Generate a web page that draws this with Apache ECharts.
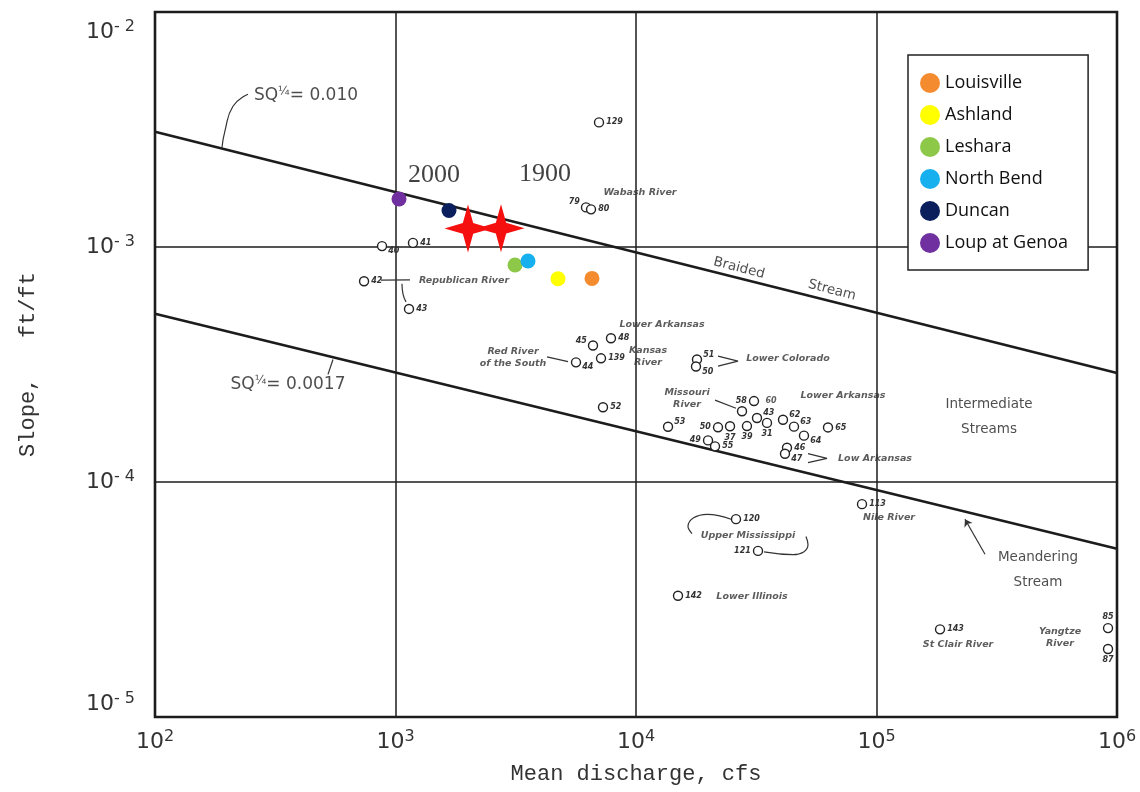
<!DOCTYPE html>
<html><head><meta charset="utf-8">
<script src="https://cdn.jsdelivr.net/npm/echarts@6/dist/echarts.min.js"></script>
<style>html,body{margin:0;padding:0;background:#fff}#c{width:1140px;height:792px}</style>
</head><body><div id="c"></div>
<script>
// ---------------- data ----------------
const xRange = [100, 1000000];          // mean discharge, cfs
const yRange = [1e-5, 1e-2];            // slope, ft/ft
const xTitle = 'Mean discharge, cfs';
const yTitle = 'Slope,   ft/ft';

const stationNames = ['Louisville', 'Ashland', 'Leshara', 'North Bend', 'Duncan', 'Loup at Genoa'];
const stationQ = [6561, 4739, 3140, 3556, 1669, 1034];
const stationS = [7.35e-4, 7.33e-4, 8.38e-4, 8.72e-4, 1.429e-3, 1.60e-3];

const starQ = [2002, 2746];
const starS = [1.20e-3, 1.203e-3];

const circleQ = [7018, 6196, 6501, 879, 1182, 740, 1138, 7870, 6626, 7153, 5630, 17930, 17760, 7291, 30950, 27590, 31850, 35050, 40850, 45390, 49940, 62850, 13590, 21930, 24600, 28930, 19930, 21310, 42450, 41640, 87040, 26050, 32160, 14950, 183700, 917700, 917700];
const circleS = [3.39e-3, 1.474e-3, 1.446e-3, 1.009e-3, 1.041e-3, 7.15e-4, 5.45e-4, 4.09e-4, 3.81e-4, 3.36e-4, 3.23e-4, 3.32e-4, 3.10e-4, 2.08e-4, 2.21e-4, 2.00e-4, 1.873e-4, 1.784e-4, 1.84e-4, 1.72e-4, 1.575e-4, 1.707e-4, 1.718e-4, 1.709e-4, 1.727e-4, 1.730e-4, 1.503e-4, 1.418e-4, 1.399e-4, 1.319e-4, 8.05e-5, 6.95e-5, 5.09e-5, 3.28e-5, 2.36e-5, 2.39e-5, 1.946e-5];
const circleTag = ['129','79','80','40','41','42','43','48','45','139','44','51','50','52','58','','43','31','62','63','64','65','53','50','37','39','49','55','46','47','113','120','121','142','143','85','87'];

const braidedQ = [100, 1000000];
const braidedS = [3.09e-3, 2.91e-4];
const meanderQ = [100, 1000000];
const meanderS = [5.2e-4, 5.2e-5];

const noteText = ['Wabash River', 'Republican River', 'Lower Arkansas', 'Red River\nof the South', 'Kansas\nRiver', 'Lower Colorado', 'Missouri\nRiver', 'Lower Arkansas', 'Low Arkansas', 'Nile River', 'Upper Mississippi', 'Lower Illinois', 'St Clair River', 'Yangtze\nRiver', '60', 'Intermediate\nStreams', 'Meandering\nStream', 'Braided', 'Stream', '2000', '1900', '0.010', '0.0017'];
const noteQ = [10390, 1927, 12830, 3081, 11220, 42860, 16300, 72560, 98580, 112700, 29220, 30360, 218300, 579400, 36420, 293600, 469400, 26820, 65310, 1445, 4183, 424.5, 357.3];
const noteS = [1.698e-3, 7.21e-4, 4.67e-4, 3.40e-4, 3.41e-4, 3.35e-4, 2.265e-4, 2.339e-4, 1.253e-4, 7.04e-5, 5.89e-5, 3.24e-5, 2.04e-5, 2.18e-5, 2.21e-4, 1.89e-4, 4.24e-5, 8.13e-4, 6.54e-4, 2.03e-3, 2.05e-3, 4.40e-3, 2.59e-4];
const noteKind = ['river','river','river','river','river','river','river','river','river','river','river','river','river','river','num','zone','zone','tilt','tilt','year','year','sq','sq'];

// leader lines (data coordinates)
const leaderSQ1 = [[243.6, 4.47e-3], [211, 3.97e-3], [195.5, 3.13e-3], [189.9, 2.65e-3]];
const leaderSQ2 = [[549.6, 3.32e-4], [524, 2.87e-4]];
const leaderMeander = [[282600, 4.93e-5], [233300, 6.94e-5]];
const leader120 = [[24830, 6.94e-5], [19740, 7.28e-5], [16450, 6.46e-5], [17090, 6.03e-5]];
const leader121 = [[34050, 5.04e-5], [44960, 4.91e-5], [51900, 5.42e-5], [50910, 5.86e-5]];
const leaderRed = [[4266, 3.41e-4], [5216, 3.25e-4]];
const leaderMissouri = [[21310, 2.23e-4], [26050, 2.06e-4]];
const leaderColorado = [[21930, 3.43e-4], [26550, 3.27e-4], [21930, 3.11e-4]];
const leaderLowArk = [[51900, 1.321e-4], [62260, 1.26e-4], [51900, 1.21e-4]];
const leaderRepublican = [[870.6, 7.23e-4], [1149, 7.24e-4]];
const leaderBracket = [[1064, 6.97e-4], [1074, 6.32e-4], [1106, 5.84e-4]];

// ---------------- styles ----------------
const stationColors = ['#F48C2F', '#FFFF00', '#8DC848', '#16B0EE', '#0B1F5C', '#7030A0'];
const tagSide = ['r','lt','r','rb','r','r','r','r','lt','r','rb','rt','rb','r','l','','rt','b','rt','rt','rb','r','rt','l','b','b','l','r','r','rb','r','r','l','r','r','t','b'];
const sideMap = {
  r: {position: 'right', offset: [0, 0]}, l: {position: 'left', offset: [0, 0]},
  t: {position: 'top', offset: [0, 0]}, b: {position: 'bottom', offset: [0, 0]},
  rt: {position: 'right', offset: [-1, -5]}, rb: {position: 'right', offset: [-1, 5]},
  lt: {position: 'left', offset: [1, -5]}, '': {position: 'right', offset: [0, 0]}
};
const numFont = {fontFamily: 'DejaVu Sans', fontStyle: 'italic', fontWeight: 'bold', fontSize: 8, color: '#333'};
const kindStyle = {
  river: {fontFamily: 'DejaVu Sans', fontStyle: 'italic', fontWeight: 'bold', fontSize: 9.5, color: '#333', lineHeight: 12},
  num: numFont,
  zone: {fontFamily: 'DejaVu Sans', fontSize: 13.5, color: '#222', lineHeight: 25},
  tilt: {fontFamily: 'DejaVu Sans', fontSize: 13.5, color: '#222', rotate: -14.5},
  year: {fontFamily: 'Liberation Serif', fontSize: 26, color: '#111'},
  sq: {fontFamily: 'DejaVu Sans', fontSize: 17, color: '#222',
       rich: {a: {fontFamily: 'DejaVu Sans', fontSize: 17, color: '#222', lineHeight: 20},
              f: {fontFamily: 'DejaVu Sans', fontSize: 12, color: '#222', lineHeight: 12, verticalAlign: 'top'}}}
};
const ink = '#1c1c1c';

// ---------------- build option ----------------
const series = [];
function leader(data, smooth) {
  series.push({type: 'line', data: data, smooth: smooth ? 0.5 : false, symbol: 'none', silent: true,
    lineStyle: {color: '#333', width: 1.2}, z: 3});
}
series.push({type: 'line', name: 'braided', data: braidedQ.map((q, i) => [q, braidedS[i]]), symbol: 'none',
  silent: true, lineStyle: {color: ink, width: 2.6}, z: 2});
series.push({type: 'line', name: 'meander', data: meanderQ.map((q, i) => [q, meanderS[i]]), symbol: 'none',
  silent: true, lineStyle: {color: ink, width: 2.6}, z: 2});
leader(leaderSQ1, true); leader(leaderSQ2, false); leader(leader120, true); leader(leader121, true);
leader(leaderRed, false); leader(leaderMissouri, false); leader(leaderColorado, false);
leader(leaderLowArk, false); leader(leaderRepublican, false); leader(leaderBracket, true);
series.push({type: 'line', data: [], silent: true, markLine: {silent: true, symbol: ['none', 'arrow'], symbolSize: 7,
  lineStyle: {color: '#333', width: 1.2, type: 'solid'}, label: {show: false},
  data: [[{coord: leaderMeander[0]}, {coord: leaderMeander[1]}]]}});

series.push({type: 'scatter', name: 'circles', symbol: 'circle', symbolSize: 9, z: 4,
  itemStyle: {color: '#fff', borderColor: '#222', borderWidth: 1.4, opacity: 1},
  data: circleQ.map((q, i) => ({value: [q, circleS[i]], name: circleTag[i],
    label: Object.assign({show: !!circleTag[i], distance: 2, formatter: '{b}'}, numFont, sideMap[tagSide[i]])}))});

series.push({type: 'scatter', name: 'notes', symbolSize: 0, z: 5, silent: true,
  data: noteQ.map((q, i) => {
    const k = noteKind[i];
    const lab = Object.assign({show: true, position: 'inside', align: 'center', verticalAlign: 'middle'}, kindStyle[k]);
    lab.formatter = k === 'sq' ? '{a|SQ}{f|¼}{a|= ' + noteText[i] + '}' : noteText[i];
    return {value: [q, noteS[i]], label: lab};
  })});

series.push({type: 'scatter', name: 'stars', z: 7,
  symbol: 'path://M50,0 L61,39 L100,50 L61,61 L50,100 L39,61 L0,50 L39,39 Z', symbolSize: [47, 48],
  itemStyle: {color: '#F50F0F', opacity: 1}, data: starQ.map((q, i) => [q, starS[i]])});

stationNames.forEach((n, i) => series.push({type: 'scatter', name: n, symbol: 'circle', symbolSize: 15, z: 6,
  itemStyle: {color: stationColors[i], opacity: 1}, data: [[stationQ[i], stationS[i]]]}));

const richSup = {
  b: {fontFamily: 'DejaVu Sans', fontSize: 22, color: '#333', lineHeight: 26},
  s: {fontFamily: 'DejaVu Sans', fontSize: 16, color: '#333', lineHeight: 16, verticalAlign: 'top'},
  gap: {fontSize: 10, lineHeight: 40}
};

const option = {
  animation: false,
  backgroundColor: '#fff',
  grid: {left: 155, right: 23, top: 12, bottom: 75, show: true, borderColor: ink, borderWidth: 2.6,
    backgroundColor: 'transparent', z: 8, containLabel: false, outerBoundsMode: 'none'},
  legend: {data: stationNames, orient: 'vertical', left: 908, top: 55, icon: 'circle', itemWidth: 20, itemHeight: 20,
    itemGap: 12, padding: [18, 20, 17, 12], backgroundColor: '#fff', borderColor: '#222', borderWidth: 1.5,
    itemStyle: {opacity: 1},
    textStyle: {fontFamily: 'Open Sans', fontSize: 18, color: '#111', lineHeight: 20}, selectedMode: false},
  xAxis: {type: 'log', logBase: 10, min: xRange[0], max: xRange[1],
    name: xTitle, nameLocation: 'middle', nameGap: 46,
    nameTextStyle: {fontFamily: 'Liberation Mono', fontSize: 22, color: '#333'},
    axisLine: {show: false}, axisTick: {show: false},
    splitLine: {show: true, lineStyle: {color: ink, width: 1.5}},
    axisLabel: {margin: 12, rich: richSup,
      formatter: v => '{b|10}{s|' + Math.round(Math.log10(v)) + '}'}},
  yAxis: {type: 'log', logBase: 10, min: yRange[0], max: yRange[1],
    name: yTitle, nameLocation: 'middle', nameGap: 116,
    nameTextStyle: {fontFamily: 'Liberation Mono', fontSize: 22, color: '#333'},
    axisLine: {show: false}, axisTick: {show: false},
    splitLine: {show: true, lineStyle: {color: ink, width: 1.5}},
    axisLabel: {margin: 20, rich: richSup, verticalAlignMinLabel: 'bottom',
      formatter: v => {
        const e = Math.abs(Math.round(Math.log10(v)));
        return (e === 2 ? '{gap| }\n' : '') + '{b|10}{s|- ' + e + '}';
      }}},
  series: series
};
echarts.init(document.getElementById('c'), null, {renderer: 'canvas'}).setOption(option);
</script></body></html>
